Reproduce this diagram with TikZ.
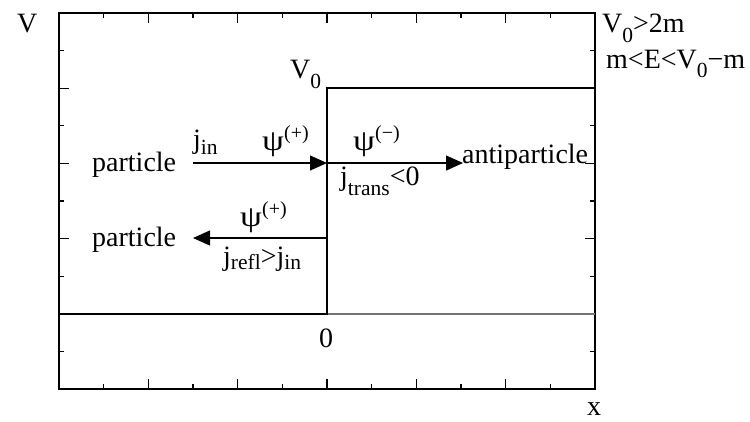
\documentclass[tikz,border=0pt]{standalone}
\usepackage{fontspec}
\setmainfont{Liberation Serif}
\usetikzlibrary{arrows.meta}
\newcommand{\sbx}[2][9pt]{\raisebox{-#1}{\fontsize{21.5}{22}\selectfont #2}}
\newcommand{\spx}[2][11pt]{\raisebox{#1}{\fontsize{20}{21}\selectfont #2}}
\newcommand{\psig}{\scalebox{1.25}[1.05]{ψ}}
\begin{document}
\begin{tikzpicture}[x=1pt,y=-1pt,
  lab/.style={inner sep=0pt,anchor=base west,font=\fontsize{28}{30}\selectfont},
  frame/.style={line width=1.2pt,black},
  tickline/.style={line width=1.1pt,black},
  stepline/.style={line width=1.2pt,black},
  zeroline/.style={line width=1.2pt,black!55},
  flow/.style={line width=1.1pt,-{Triangle[length=17pt,width=15pt]}}]
\useasboundingbox (0,0) rectangle (750,421);
% frame
\coordinate (fbl) at (59,389);
\coordinate (ftr) at (595,13);
\draw[frame] (fbl) rectangle (ftr);
% x ticks
\foreach \k in {1,...,11}{
  \pgfmathsetmacro{\xx}{59+\k*44.667}
  \pgfmathsetmacro{\tl}{isodd(\k)?5:10}
  \draw[tickline] (\xx,389) -- ++(0,-\tl);
  \draw[tickline] (\xx,13) -- ++(0,\tl);
}
% y ticks
\foreach \k in {1,...,9}{
  \pgfmathsetmacro{\yy}{13+\k*37.6}
  \pgfmathsetmacro{\tl}{isodd(\k)?5:10}
  \draw[tickline] (59,\yy) -- ++(\tl,0);
  \draw[tickline] (595,\yy) -- ++(-\tl,0);
}
% zero line and potential step
\coordinate (zl) at (59,314);
\coordinate (zr) at (595,314);
\coordinate (s0) at (327,314);
\coordinate (s1) at (327,88);
\coordinate (s2) at (595,88);
\draw[zeroline] (zl) -- (zr);
\draw[stepline] (zl) -- (s0) -- (s1) -- (s2);
% arrows
\coordinate (a1) at (193,163);
\coordinate (a2) at (327,163);
\coordinate (a3) at (463,163);
\coordinate (b1) at (327,238);
\coordinate (b2) at (193,238);
\draw[flow] (a1) -- (a2);
\draw[flow] (a2) -- (a3);
\draw[flow] (b1) -- (b2);
% labels
\node[lab] (lv) at (17,32) {V};
\node[lab] (lx) at (587,415) {x};
\node[lab] (lv0) at (290,78) {V\sbx[10pt]{0}};
\node[lab] (lc1) at (602,32) {V\sbx[10pt]{0}>2m};
\node[lab] (lc2) at (606,68) {m<E<V\sbx[9pt]{0}−m};
\node[lab] (lp1) at (92,171) {particle};
\node[lab] (ljin) at (193,148) {j\sbx[6pt]{in}};
\node[lab] (lpsi1) at (262,150) {\psig\spx{(+)}};
\node[lab] (lpsi2) at (353,150) {\psig\spx{(−)}};
\node[lab] (lanti) at (462,163) {antiparticle};
\node[lab] (ljt) at (340,185) {j\sbx[10pt]{trans}<0};
\node[lab] (lpsi3) at (240,226) {\psig\spx{(+)}};
\node[lab] (lp2) at (92,246) {particle};
\node[lab] (ljr) at (223,265) {j\sbx[4pt]{refl}>j\sbx[4pt]{in}};
\node[lab] (l0) at (319,347) {0};
\end{tikzpicture}
\end{document}
